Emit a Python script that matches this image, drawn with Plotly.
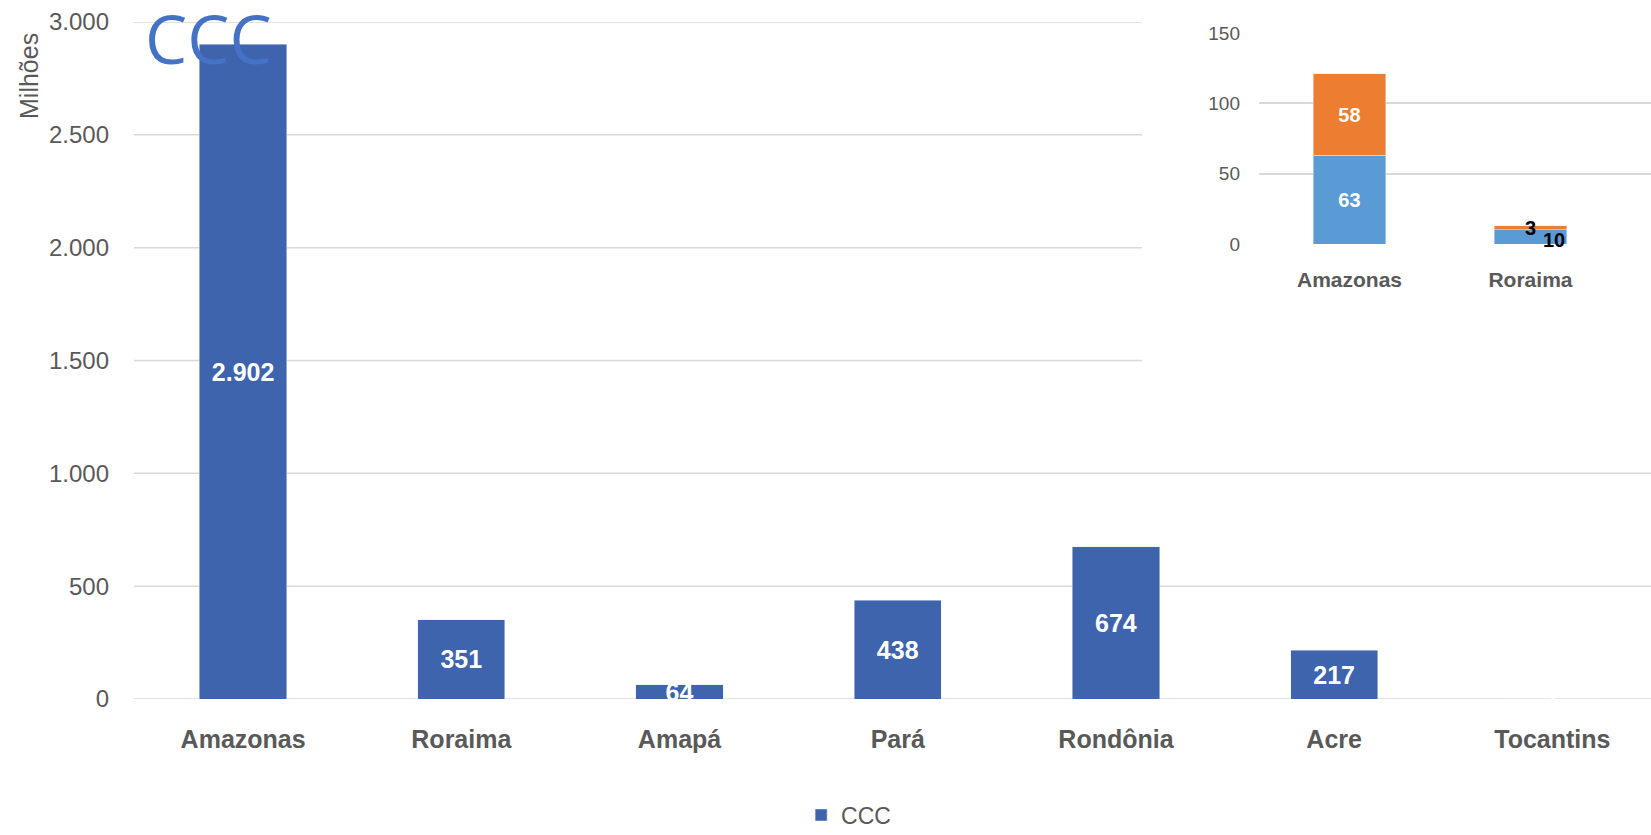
import plotly.graph_objects as go

# ---------------- data ----------------
categories = ["Amazonas", "Roraima", "Amapá", "Pará", "Rondônia", "Acre", "Tocantins"]
ccc_values = [2902, 351, 64, 438, 674, 217, 1]
ccc_labels = ["2.902", "351", "64", "438", "674", "217", "1"]

inset_categories = ["Amazonas", "Roraima"]
inset_blue = [63, 10]
inset_orange = [58, 3]

main_ticks = [0, 500, 1000, 1500, 2000, 2500, 3000]
inset_ticks = [0, 50, 100, 150]

# ---------------- layout helpers ----------------
W, H = 1651, 835
def px(x):
    return x / W
def py(y):
    return 1 - y / H

FONT = "Liberation Sans"
GRAY = "#595959"
GRID = "#d9d9d9"
MAIN_BLUE = "#3E64AD"
LIGHT_BLUE = "#5B9BD5"
ORANGE = "#ED7D31"

MAIN_LEFT = 134
INSET_LEFT_MAIN = 1142          # where the inset's white box starts
INSET_BOX_BOTTOM_VALUE = 1250   # main-axis value below which main gridlines run full width

fig = go.Figure()

fig.add_trace(go.Bar(
    x=categories, y=ccc_values, name="CCC",
    marker_color=MAIN_BLUE, width=0.4,
    text=ccc_labels, textposition="inside", insidetextanchor="middle",
    constraintext="none", textangle=0, cliponaxis=False,
    textfont=dict(family=FONT, size=25, color="white", weight="bold"),
    xaxis="x", yaxis="y", showlegend=True,
))

inset_blue_text = [str(inset_blue[0]), ""]
inset_orange_text = [str(inset_orange[0]), ""]
fig.add_trace(go.Bar(
    x=inset_categories, y=inset_blue, name="inset1",
    marker_color=LIGHT_BLUE, width=0.4,
    text=inset_blue_text, textposition="inside", insidetextanchor="middle",
    constraintext="none", textangle=0,
    textfont=dict(family=FONT, size=20, color="white", weight="bold"),
    xaxis="x2", yaxis="y2", showlegend=False,
))
fig.add_trace(go.Bar(
    x=inset_categories, y=inset_orange, name="inset2",
    marker_color=ORANGE, width=0.4,
    text=inset_orange_text, textposition="inside", insidetextanchor="middle",
    constraintext="none", textangle=0,
    textfont=dict(family=FONT, size=20, color="white", weight="bold"),
    xaxis="x2", yaxis="y2", showlegend=False,
))

annotations = [
    dict(text="CCC", x=px(143), y=py(38), xref="paper", yref="paper",
         xanchor="left", yanchor="middle", showarrow=False,
         font=dict(family="Open Sans", size=67, color="#4472C4")),
    dict(text="Milhões", x=px(29), y=py(76), xref="paper", yref="paper",
         xanchor="center", yanchor="middle", textangle=-90, showarrow=False,
         font=dict(family=FONT, size=25, color=GRAY)),
    dict(text=str(inset_orange[1]), x=inset_categories[1],
         y=inset_blue[1] + inset_orange[1] / 2, xref="x2", yref="y2",
         showarrow=False, xanchor="center", yanchor="middle",
         font=dict(family=FONT, size=20, color="black", weight="bold")),
    dict(text=str(inset_blue[1]), x=inset_categories[1],
         y=inset_blue[1] / 2, xref="x2", yref="y2", xshift=24, yshift=-3,
         showarrow=False, xanchor="center", yanchor="middle",
         font=dict(family=FONT, size=20, color="black", weight="bold")),
]

# main gridlines: those behind the inset stop where the inset's white box begins
grid_cut = (INSET_LEFT_MAIN - MAIN_LEFT) / (W - MAIN_LEFT)
shapes = []
for v in main_ticks:
    shapes.append(dict(
        type="line", xref="x domain", yref="y",
        x0=0, x1=(1.0 if v < INSET_BOX_BOTTOM_VALUE else grid_cut),
        y0=v, y1=v, line=dict(color=GRID, width=1.5), layer="below"))

fig.update_layout(
    width=W, height=H,
    margin=dict(l=0, r=0, t=0, b=0, autoexpand=False),
    paper_bgcolor="white", plot_bgcolor="white",
    separators=",.",
    barmode="stack",
    font=dict(family=FONT, color=GRAY),
    xaxis=dict(domain=[px(MAIN_LEFT), 1], range=[-0.5, 6.452], type="category",
               showgrid=False, showline=False, zeroline=False, ticks="",
               tickfont=dict(family=FONT, size=25, color=GRAY, weight="bold"),
               ticklabelstandoff=23, anchor="y", automargin=False),
    yaxis=dict(domain=[py(699), py(22)], range=[0, 3000], tickvals=main_ticks,
               tickformat=",d", showgrid=False,
               zeroline=False, showline=False, ticks="",
               tickfont=dict(family=FONT, size=24, color=GRAY),
               ticklabelstandoff=24, anchor="x", automargin=False),
    xaxis2=dict(domain=[px(1259), 1], range=[-0.5, 1.666], type="category",
                showgrid=False, showline=False, zeroline=False, ticks="",
                tickfont=dict(family=FONT, size=21, color=GRAY, weight="bold"),
                ticklabelstandoff=21, anchor="y2", automargin=False),
    yaxis2=dict(domain=[py(244), py(33)], range=[0, 150], tickvals=inset_ticks,
                showgrid=True, gridcolor=GRID, gridwidth=1.5,
                zeroline=False, showline=False, ticks="",
                tickfont=dict(family=FONT, size=19, color=GRAY),
                ticklabelstandoff=18, anchor="x2", automargin=False),
    legend=dict(orientation="h", x=0.514, xanchor="center", y=py(815), yanchor="middle",
                font=dict(family=FONT, size=23, color=GRAY), bgcolor="rgba(0,0,0,0)"),
    annotations=annotations,
    shapes=shapes,
)

fig.write_html("out.html")
